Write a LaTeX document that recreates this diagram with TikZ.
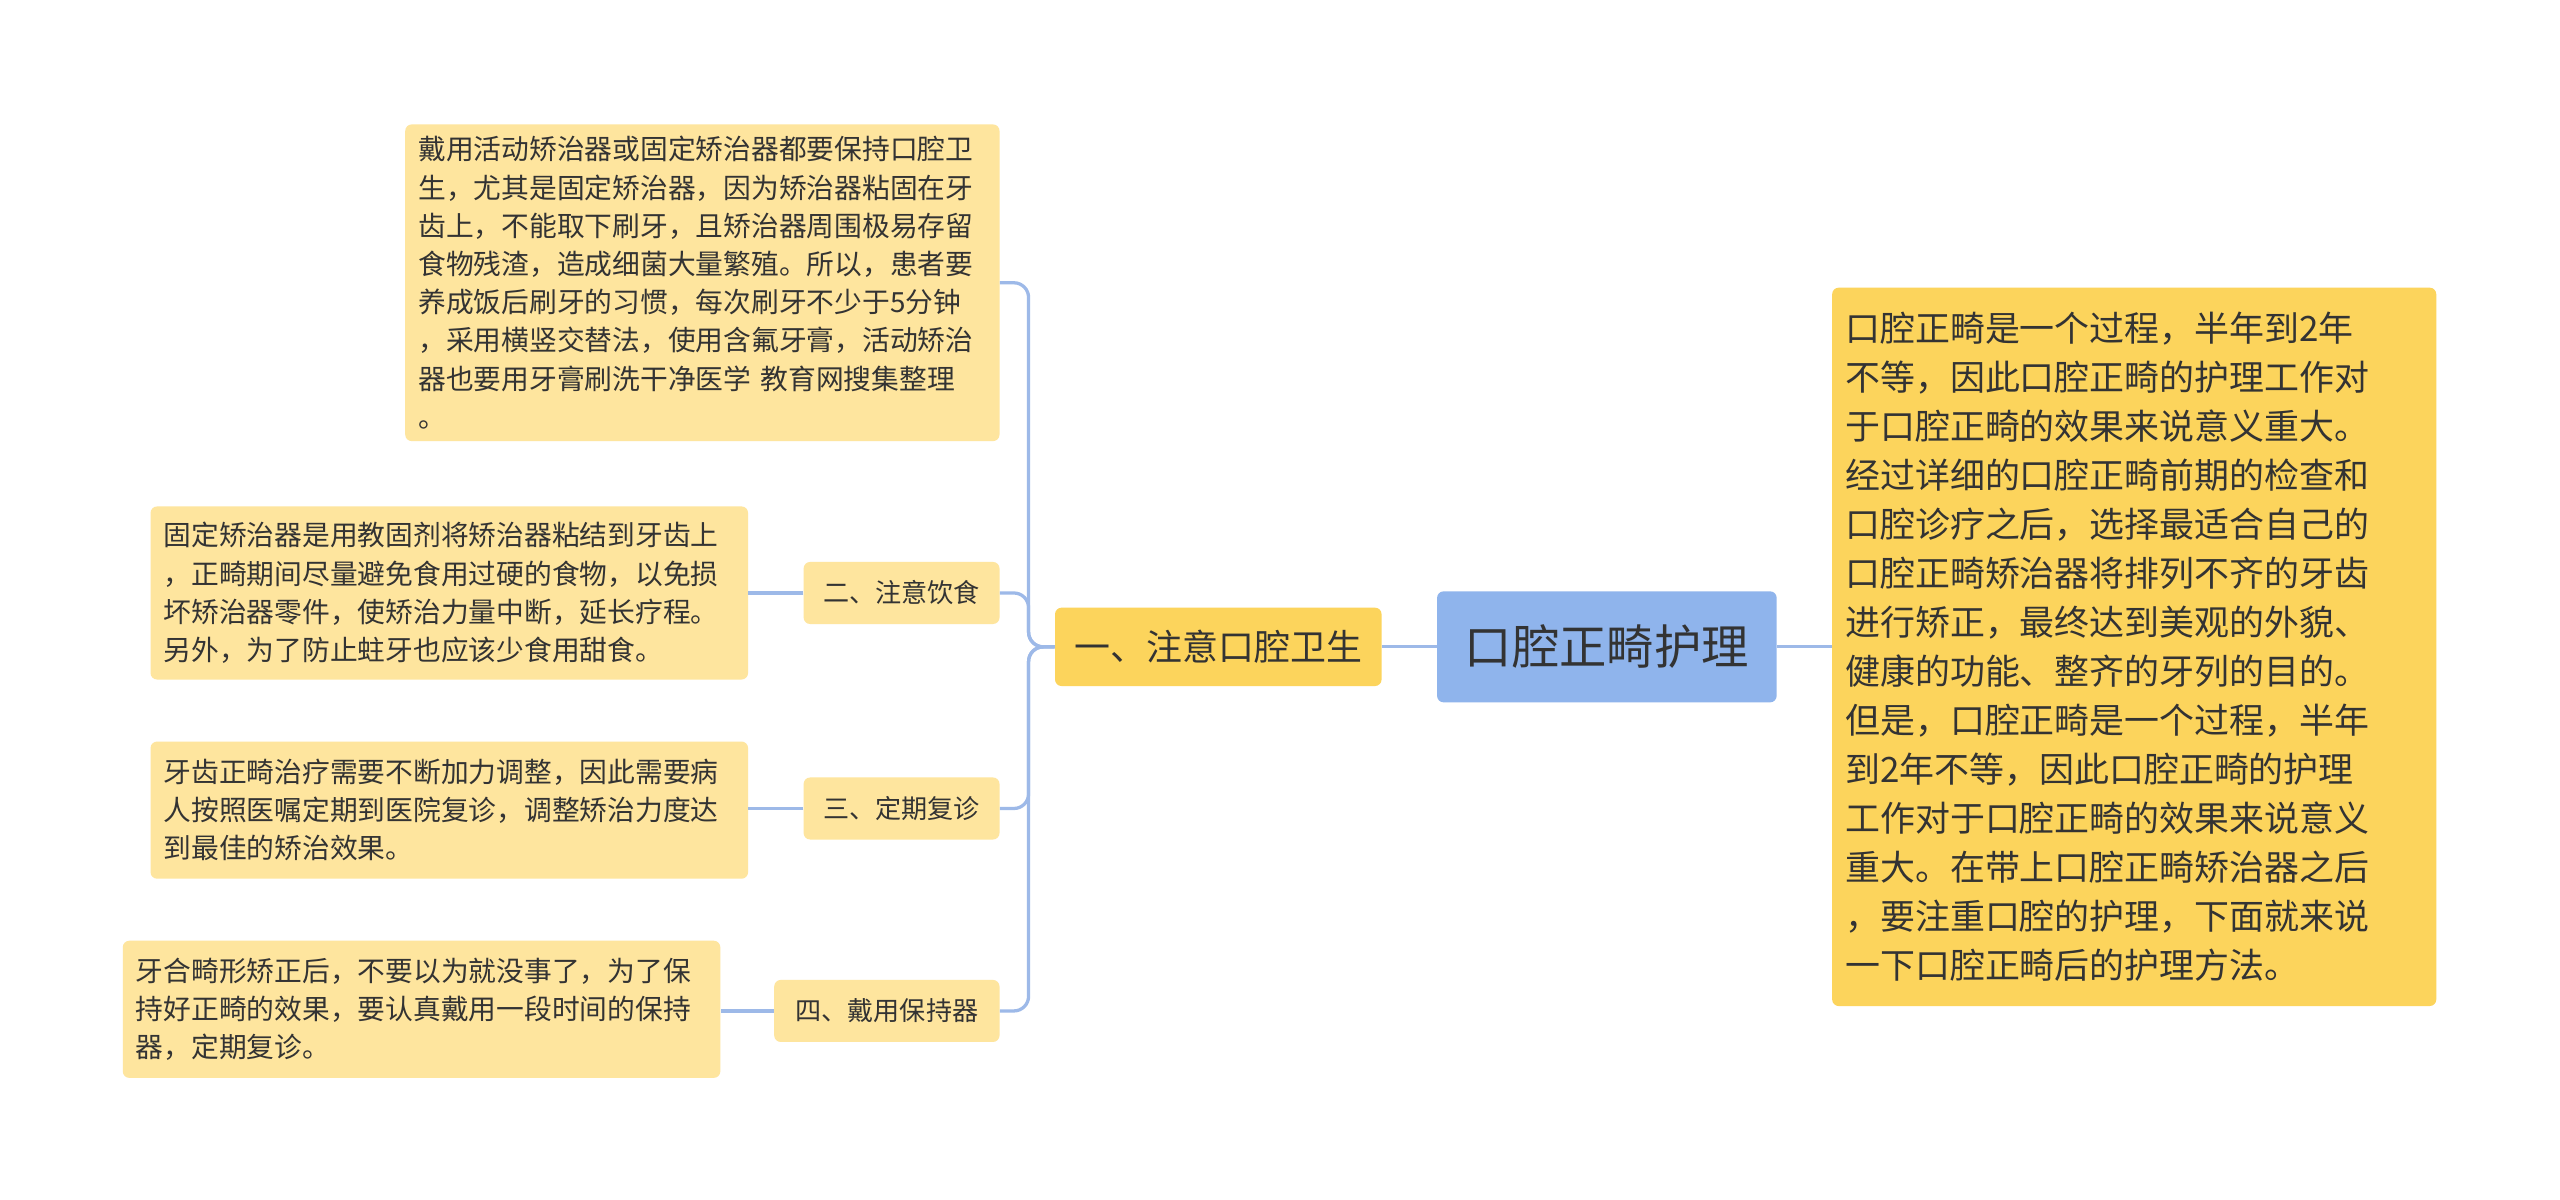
\documentclass[tikz,border=0pt]{standalone}
\usepackage{fontspec}
\setmainfont{Noto Sans CJK SC}
\definecolor{cblue}{HTML}{8FB4EC}
\definecolor{camber}{HTML}{FCD45C}
\definecolor{clight}{HTML}{FEE59E}
\definecolor{cline}{HTML}{9DB9E8}
\definecolor{ctext}{HTML}{333333}
\begin{document}
\begin{tikzpicture}[x=1pt,y=-1pt,
 box/.style={rounded corners=4pt,inner sep=0pt,text=ctext,anchor=north west},
 tb/.style={box,align=left,inner xsep=8pt},
 conn/.style={draw=cline,line width=2pt,rounded corners=9pt}]
\useasboundingbox[fill=white] (0,0) rectangle (1568,735);
\node[box,fill=cblue,minimum width=208pt,minimum height=68pt,font=\fontsize{29}{34}\selectfont] (c) at (880,362) {口腔正畸护理};
\node[tb,fill=camber,text width=354pt,minimum height=440pt,inner xsep=8pt,font=\fontsize{21.4}{30}\selectfont] (r) at (1122,176) {口腔正畸是一个过程，半年到2年\\不等，因此口腔正畸的护理工作对\\于口腔正畸的效果来说意义重大。\\经过详细的口腔正畸前期的检查和\\口腔诊疗之后，选择最适合自己的\\口腔正畸矫治器将排列不齐的牙齿\\进行矫正，最终达到美观的外貌、\\健康的功能、整齐的牙列的目的。\\但是，口腔正畸是一个过程，半年\\到2年不等，因此口腔正畸的护理\\工作对于口腔正畸的效果来说意义\\重大。在带上口腔正畸矫治器之后\\，要注重口腔的护理，下面就来说\\一下口腔正畸后的护理方法。};
\node[box,fill=camber,minimum width=200pt,minimum height=48pt,font=\fontsize{22}{26}\selectfont] (a) at (646,372) {一、注意口腔卫生};
\node[tb,fill=clight,text width=348pt,minimum height=194pt,font=\fontsize{17}{23.4}\selectfont] (t1) at (248,76) {戴用活动矫治器或固定矫治器都要保持口腔卫\\生，尤其是固定矫治器，因为矫治器粘固在牙\\齿上，不能取下刷牙，且矫治器周围极易存留\\食物残渣，造成细菌大量繁殖。所以，患者要\\养成饭后刷牙的习惯，每次刷牙不少于5分钟\\，采用横竖交替法，使用含氟牙膏，活动矫治\\器也要用牙膏刷洗干净医学 教育网搜集整理\\。};
\node[box,fill=clight,minimum width=120pt,minimum height=38pt,font=\fontsize{16}{20}\selectfont] (b2) at (492,344) {二、注意饮食};
\node[tb,fill=clight,text width=350pt,minimum height=106pt,font=\fontsize{17}{23.4}\selectfont] (t2) at (92,310) {固定矫治器是用教固剂将矫治器粘结到牙齿上\\，正畸期间尽量避免食用过硬的食物，以免损\\坏矫治器零件，使矫治力量中断，延长疗程。\\另外，为了防止蛀牙也应该少食用甜食。};
\node[box,fill=clight,minimum width=120pt,minimum height=38pt,font=\fontsize{16}{20}\selectfont] (b3) at (492,476) {三、定期复诊};
\node[tb,fill=clight,text width=350pt,minimum height=84pt,font=\fontsize{17}{23.4}\selectfont] (t3) at (92,454) {牙齿正畸治疗需要不断加力调整，因此需要病\\人按照医嘱定期到医院复诊，调整矫治力度达\\到最佳的矫治效果。};
\node[box,fill=clight,minimum width=138pt,minimum height=38pt,font=\fontsize{16}{20}\selectfont] (b4) at (474,600) {四、戴用保持器};
\node[tb,fill=clight,text width=350pt,minimum height=84pt,font=\fontsize{17}{23.4}\selectfont] (t4) at (75,576) {牙合畸形矫正后，不要以为就没事了，为了保\\持好正畸的效果，要认真戴用一段时间的保持\\器，定期复诊。};
\draw[conn] (c.east) -- (r.west);
\draw[conn] (c.west) -- (a.east);
\draw[conn] (a.west) -- ++(-16,0) |- (t1.east);
\draw[conn] (a.west) -- ++(-16,0) |- (b2.east);
\draw[conn] (a.west) -- ++(-16,0) |- (b3.east);
\draw[conn] (a.west) -- ++(-16,0) |- (b4.east);
\draw[conn] (b2.west) -- (b2.west -| t2.east);
\draw[conn] (b3.west) -- (b3.west -| t3.east);
\draw[conn] (b4.west) -- (b4.west -| t4.east);
\end{tikzpicture}
\end{document}
